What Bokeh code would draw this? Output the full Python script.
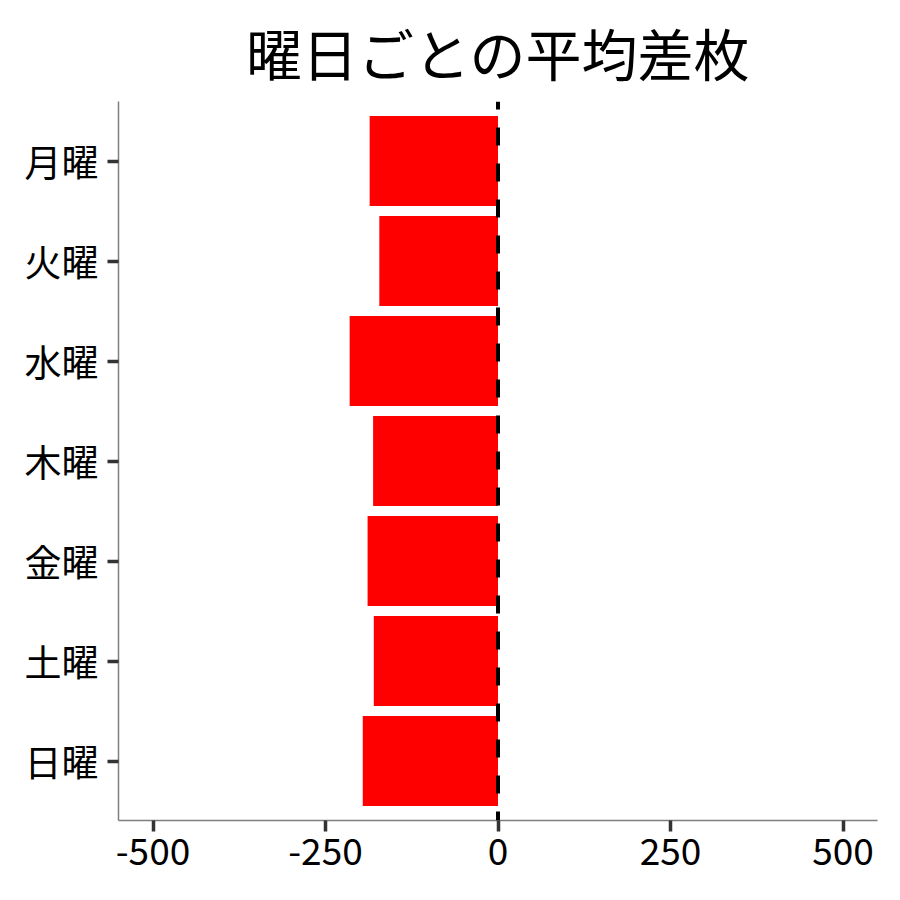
from bokeh.plotting import figure
from bokeh.models import FactorRange, Range1d, FixedTicker, Span, ColumnDataSource
from bokeh.embed import file_html
from bokeh.resources import INLINE

# data (top to bottom as in the chart)
days = ["月曜", "火曜", "水曜", "木曜", "金曜", "土曜", "日曜"]
avg_diff = [-186, -172, -215, -181, -189, -180, -196]
x_ticks = [-500, -250, 0, 250, 500]
x_tick_labels = ["-500", "-250", "0", "250", "500"]
title_text = "曜日ごとの平均差枚"

FONT = "Noto Sans CJK JP"

source = ColumnDataSource(data=dict(day=days, diff=avg_diff))

p = figure(
    width=900, height=900,
    y_range=FactorRange(factors=list(reversed(days)), range_padding=0.095,
                        range_padding_units="absolute"),
    x_range=Range1d(-550, 550),
    output_backend="svg", toolbar_location=None,
    title=title_text,
    min_border_left=118, min_border_right=23, min_border_bottom=80, min_border_top=101,
)

p.hbar(y="day", left=0, right="diff", height=0.9, source=source,
       fill_color="#FF0000", line_color=None)

p.add_layout(Span(location=0, dimension="height", line_color="black",
                  line_width=4, line_dash="18 18", line_dash_offset=10))

p.title.text_font = FONT
p.title.text_font_size = "56px"
p.title.text_font_style = "normal"
p.title.text_color = "black"
p.title.align = "center"
p.title.vertical_align = "top"
p.title.standoff = 16

p.xaxis.ticker = FixedTicker(ticks=x_ticks)
p.xaxis.major_label_overrides = {t: s for t, s in zip(x_ticks, x_tick_labels)}
for ax in (p.xaxis, p.yaxis):
    ax.axis_line_color = "#7f7f7f"
    ax.axis_line_width = 1.5
    ax.major_tick_line_color = "#333333"
    ax.major_tick_line_width = 3.5
    ax.major_tick_out = 11
    ax.major_tick_in = 0
    ax.minor_tick_line_color = None
    ax.major_label_text_font = FONT
    ax.major_label_text_font_size = "37px"
    ax.major_label_text_color = "black"
p.yaxis.major_label_standoff = 9
p.xaxis.major_label_standoff = 6

p.xgrid.grid_line_color = None
p.ygrid.grid_line_color = None
p.outline_line_color = None
p.background_fill_color = "white"
p.border_fill_color = "white"

open("out.html", "w").write(file_html(p, INLINE))
